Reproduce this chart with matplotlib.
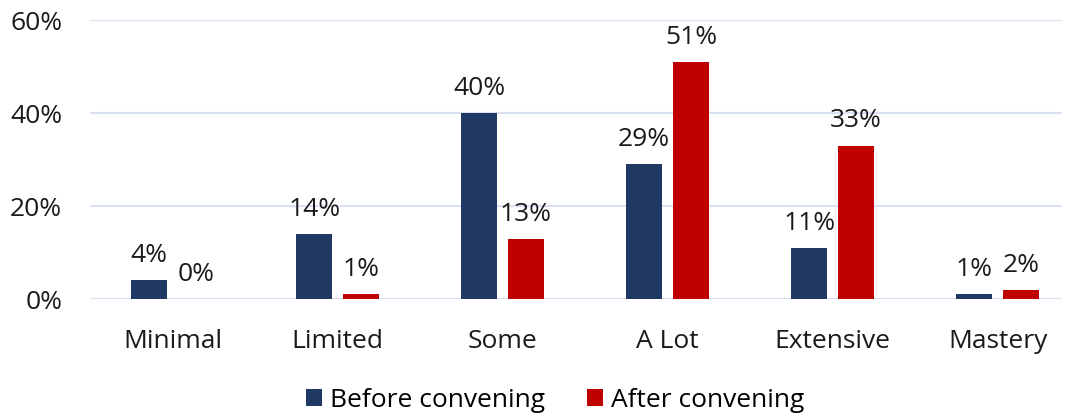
import numpy as np
import matplotlib.pyplot as plt
from matplotlib.ticker import PercentFormatter

levels = ["Minimal", "Limited", "Some", "A Lot", "Extensive", "Mastery"]
before = [4, 14, 40, 29, 11, 1]
after = [0, 1, 13, 51, 33, 2]
series_names = ["Before convening", "After convening"]

NAVY = "#1F3864"
RED = "#C00000"
GRID = "#D9E1F2"
FS = 19

plt.rcParams['font.family'] = ['Open Sans', 'DejaVu Sans']

fig = plt.figure(figsize=(10.67, 4.15), dpi=100)
ax = fig.add_axes([0.0844, 0.2795, 0.9109, 0.6723])

x = np.arange(len(levels))
w = 0.22
off = 0.142
b1 = ax.bar(x - off, before, w, color=NAVY, label=series_names[0], zorder=3)
b2 = ax.bar(x + off, after, w, color=RED, label=series_names[1], zorder=3)

for bars, vals in ((b1, before), (b2, after)):
    for rect, v in zip(bars, vals):
        ax.annotate(f"{v}%", (rect.get_x() + rect.get_width() / 2, v),
                    xytext=(0, 13), textcoords="offset points",
                    ha="center", va="baseline", fontsize=FS, color="#1a1a1a")

ax.set_ylim(0, 60)
ax.set_yticks([0, 20, 40, 60])
ax.yaxis.set_major_formatter(PercentFormatter(decimals=0))
ax.set_xlim(-0.5, 5.39)
ax.set_xticks(x)
ax.set_xticklabels(levels)
ax.tick_params(axis="both", length=0, labelsize=FS, colors="#1a1a1a")
ax.tick_params(axis="x", pad=21.5)
ax.tick_params(axis="y", pad=20)
ax.grid(axis="y", color=GRID, linewidth=1.5, zorder=0)
for s in ax.spines.values():
    s.set_visible(False)

fig.legend(loc="center", bbox_to_anchor=(0.52, 0.036), ncol=2, frameon=False,
           fontsize=FS, handlelength=0.6, handleheight=0.6, handletextpad=0.3,
           columnspacing=1.6)

fig.savefig("out.png", dpi=100)
